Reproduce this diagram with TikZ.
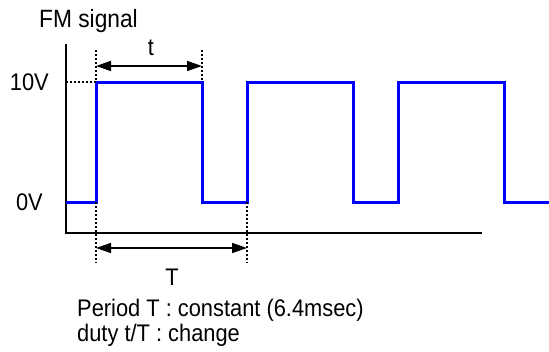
\documentclass[tikz,border=0pt]{standalone}
\usepackage{fontspec}
\setmainfont{Liberation Sans}[FakeStretch=0.91]
\usetikzlibrary{arrows.meta}

\tikzset{
  lbl/.style={inner sep=0pt, font=\fontsize{24}{28}\selectfont},
  guide/.style={line width=1.4pt, dash pattern=on 2pt off 2pt},
  dim/.style={line width=1.6pt, {Triangle[length=15pt,width=10pt]}-{Triangle[length=15pt,width=10pt]}},
}

\begin{document}
\begin{tikzpicture}[x=1pt,y=-1pt]
    \useasboundingbox (0,0) rectangle (549,351);

    % Axes
    \coordinate (top) at (66,44);
    \coordinate (O) at (66,233);
    \coordinate (end) at (482,233);
    \draw[line width=2pt] (top) -- (O) -- (end);

    % Fronts du signal
    \coordinate (s0) at (66,202);
    \coordinate (r1) at (96,202);  \coordinate (h1) at (96,82);
    \coordinate (f1) at (202,82);  \coordinate (l1) at (202,202);
    \coordinate (r2) at (247,202); \coordinate (h2) at (247,82);
    \coordinate (f2) at (353,82);  \coordinate (l2) at (353,202);
    \coordinate (r3) at (398,202); \coordinate (h3) at (398,82);
    \coordinate (f3) at (504,82);  \coordinate (l3) at (504,202);
    \coordinate (s1) at (549,202);
    \draw[blue, line width=3pt] (s0) -- (r1) -- (h1) -- (f1) -- (l1) -- (r2) -- (h2)
        -- (f2) -- (l2) -- (r3) -- (h3) -- (f3) -- (l3) -- (s1);

    % Repères pointillés
    \coordinate (y10) at (66,82);
    \coordinate (ta) at (96,50);
    \coordinate (tb) at (202,50);
    \coordinate (Ta) at (96,263);
    \coordinate (Tb) at (247,263);
    \draw[guide] (y10) -- (h1);
    \draw[guide] (ta) -- (h1);
    \draw[guide] (tb) -- (f1);
    \draw[guide] (r1) -- (Ta);
    \draw[guide] (r2) -- (Tb);

    % Cotes t et T
    \coordinate (ta1) at (96,66);  \coordinate (tb1) at (202,66);
    \coordinate (Ta1) at (96,248); \coordinate (Tb1) at (247,248);
    \draw[dim] (ta1) -- (tb1);
    \draw[dim] (Ta1) -- (Tb1);

    % Textes
    \node[lbl, anchor=base west, font=\fontsize{25}{28}\selectfont] (title) at (39,27) {FM signal};
    \node[lbl, anchor=base] (tlab) at (151,55) {t};
    \node[lbl, anchor=base] (Tlab) at (172,285) {T};
    \node[lbl, anchor=base east] (v10) at (49,90) {10V};
    \node[lbl, anchor=base east] (v0) at (43,210) {0V};
    \node[lbl, anchor=base west] (per) at (77,316) {Period T : constant (6.4msec)};
    \node[lbl, anchor=base west] (duty) at (77,341) {duty t/T : change};
\end{tikzpicture}
\end{document}
